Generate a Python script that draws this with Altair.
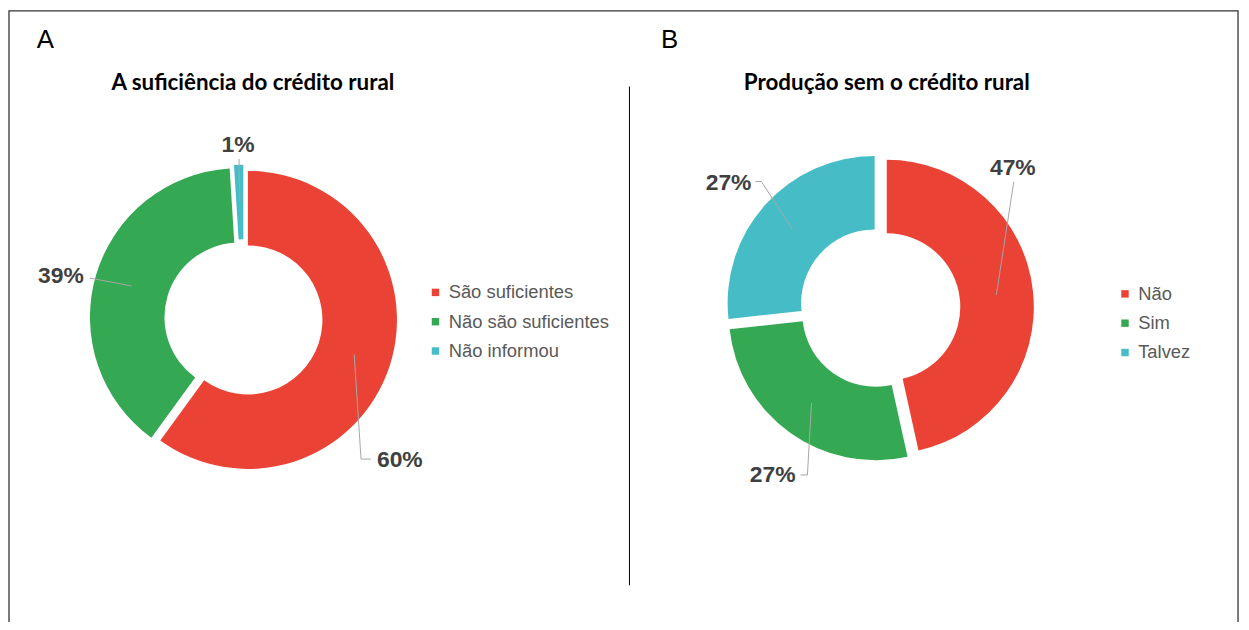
import altair as alt
import pandas as pd

# ---------------- data ----------------
A_CATEGORIES = ["São suficientes", "Não são suficientes", "Não informou"]
A_VALUES = [60, 39, 1]
B_CATEGORIES = ["Não", "Sim", "Talvez"]
B_VALUES = [47, 27, 27]
COLORS = ["#EA4335", "#34A853", "#46BDC6"]
PANEL_LETTERS = ["A", "B"]
TITLES = ["A suficiência do crédito rural", "Produção sem o crédito rural"]

# ---------------- layout (pixels, chart coordinates) ----------------
W, H = 1241, 614
LABEL_COLOR = "#404040"
LEADER_COLOR = "#A6A6A6"
LEGEND_TEXT = "#595959"

# per slice: label angle shift (deg), label radius, leader end dx, dy, elbow dx
A_LAYOUT = dict(shift=[24.7, -3.2, 0.0], rad=[208, 184, 170],
                p2dx=[-29, 29, 1], p2dy=[-1, 2, 14], elbow=[-10, 0, 0])
B_LAYOUT = dict(shift=[-41.6, -3.1, -2.6], rad=[189, 193, 190],
                p2dx=[1, 28, 27], p2dy=[14, 0, -2], elbow=[0, 7, 6])


def arr(vals):
    return "[" + ",".join(str(v) for v in vals) + "][datum.order]"


def panel(cats, vals, cx, cy, R, r, ex, lay, legx, legy):
    df = pd.DataFrame({"cat": cats, "value": vals, "order": list(range(len(cats)))})
    rm = (R + r) / 2
    base = (
        alt.Chart(df)
        .transform_joinaggregate(total="sum(value)")
        .transform_window(cum="sum(value)", sort=[alt.SortField("order")], frame=[None, 0])
        .transform_calculate(t1="2*PI*datum.cum/datum.total")
        .transform_calculate(t0="2*PI*(datum.cum-datum.value)/datum.total")
        .transform_calculate(mid="(datum.t0+datum.t1)/2")
        .transform_calculate(sx=f"{cx}+{ex}*sin(datum.mid)")
        .transform_calculate(sy=f"{cy}-{ex}*cos(datum.mid)")
        .transform_calculate(rx=f"datum.sx+{rm}*sin(datum.mid)")
        .transform_calculate(ry=f"datum.sy-{rm}*cos(datum.mid)")
        .transform_calculate(la=f"datum.mid+{arr(lay['shift'])}*PI/180")
        .transform_calculate(lr=arr(lay["rad"]))
        .transform_calculate(lx="datum.sx+datum.lr*sin(datum.la)")
        .transform_calculate(ly="datum.sy-datum.lr*cos(datum.la)")
        .transform_calculate(p2x=f"datum.lx+{arr(lay['p2dx'])}")
        .transform_calculate(p2y=f"datum.ly+{arr(lay['p2dy'])}")
        .transform_calculate(p1x=f"datum.p2x+{arr(lay['elbow'])}")
        .transform_calculate(label="datum.value+'%'")
    )
    arcs = base.mark_arc(outerRadius=R, innerRadius=r).encode(
        x=alt.X("sx:Q", scale=None, axis=None),
        y=alt.Y("sy:Q", scale=None, axis=None),
        theta=alt.Theta("t0:Q", scale=None),
        theta2="t1:Q",
        color=alt.Color(
            "cat:N",
            scale=alt.Scale(domain=cats, range=COLORS),
            sort=cats,
            legend=alt.Legend(
                orient="none", legendX=legx, legendY=legy, title=None,
                symbolType="square", symbolSize=56, symbolStrokeWidth=0,
                labelFontSize=18.5, labelFont="Liberation Sans", labelLimit=400,
                labelColor=LEGEND_TEXT, rowPadding=10.5, labelOffset=4,
                padding=0,
            ),
        ),
    )
    seg1 = base.mark_rule(color=LEADER_COLOR, strokeWidth=1).encode(
        x=alt.X("rx:Q", scale=None, axis=None), y=alt.Y("ry:Q", scale=None, axis=None),
        x2="p1x:Q", y2="p2y:Q",
    )
    seg2 = base.mark_rule(color=LEADER_COLOR, strokeWidth=1).encode(
        x=alt.X("p1x:Q", scale=None, axis=None), y=alt.Y("p2y:Q", scale=None, axis=None),
        x2="p2x:Q", y2="p2y:Q",
    )
    labels = base.mark_text(
        font="Liberation Sans", fontWeight="bold", fontSize=23,
        color=LABEL_COLOR, align="center", baseline="middle",
    ).encode(
        x=alt.X("lx:Q", scale=None, axis=None), y=alt.Y("ly:Q", scale=None, axis=None),
        text="label:N",
    )
    return alt.layer(arcs, seg1, seg2, labels)


panelA = panel(A_CATEGORIES, A_VALUES, 237, 310.5, 150, 75, 4.7, A_LAYOUT, 421, 275)
panelB = panel(B_CATEGORIES, B_VALUES, 877.5, 299.6, 148, 74, 7.0, B_LAYOUT, 1115, 276.5)

deco_df = pd.DataFrame({"letter": PANEL_LETTERS, "title": TITLES,
                        "lx": [37.5, 666], "tx": [246.5, 884.5]})
deco = alt.Chart(deco_df)
letters = deco.mark_text(font="Liberation Sans", fontSize=26, color="#000000",
                         align="center", baseline="middle").encode(
    x=alt.X("lx:Q", scale=None, axis=None), y=alt.value(30), text="letter:N")
titles = deco.mark_text(font="Lato", fontWeight="bold", fontSize=22.5, color="#000000",
                        align="center", baseline="middle").encode(
    x=alt.X("tx:Q", scale=None, axis=None), y=alt.value(74), text="title:N")

one = alt.Chart(pd.DataFrame({"a": [0]}))
divider = one.mark_rule(color="#000000", strokeWidth=1).encode(
    x=alt.value(625.5), y=alt.value(77), y2=alt.value(579))
border = one.mark_rect(fillOpacity=0, stroke="#333333", strokeWidth=1.3).encode(
    x=alt.value(1), x2=alt.value(1238), y=alt.value(1), y2=alt.value(700))

chart = (
    alt.layer(border, divider, letters, titles, panelA, panelB)
    .resolve_scale(color="independent")
    .properties(width=W, height=H, autosize=alt.AutoSizeParams(type="none"),
                padding=0, background="white")
    .configure_view(stroke=None)
)

chart.save("out.html", embed_options={"renderer": "svg", "actions": False})
